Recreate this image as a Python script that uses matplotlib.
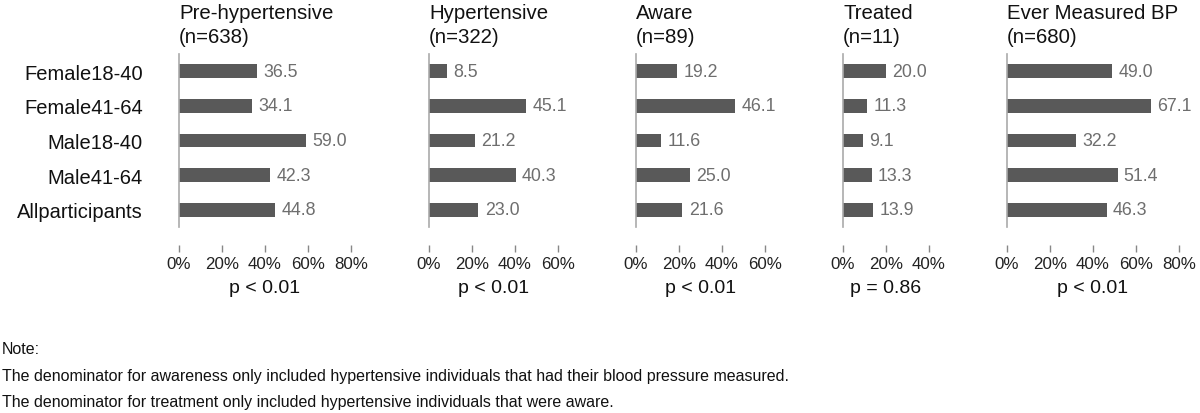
import matplotlib
matplotlib.use("Agg")
import matplotlib.pyplot as plt
from matplotlib import font_manager

categories = ["Female18-40", "Female41-64", "Male18-40", "Male41-64", "Allparticipants"]
panel_titles = ["Pre-hypertensive\n(n=638)", "Hypertensive\n(n=322)", "Aware\n(n=89)",
                "Treated\n(n=11)", "Ever Measured BP\n(n=680)"]
pre_hyp = [36.5, 34.1, 59.0, 42.3, 44.8]
hypertensive = [8.5, 45.1, 21.2, 40.3, 23.0]
aware = [19.2, 46.1, 11.6, 25.0, 21.6]
treated = [20.0, 11.3, 9.1, 13.3, 13.9]
ever_measured = [49.0, 67.1, 32.2, 51.4, 46.3]
series = [pre_hyp, hypertensive, aware, treated, ever_measured]
p_values = ["p < 0.01", "p < 0.01", "p < 0.01", "p = 0.86", "p < 0.01"]
tick_maxes = [80, 60, 60, 40, 80]
note_lines = ["Note:",
              "The denominator for awareness only included hypertensive individuals that had their blood pressure measured.",
              "The denominator for treatment only included hypertensive individuals that were aware."]

names = {f.name for f in font_manager.fontManager.ttflist}
main_font = "Liberation Sans" if "Liberation Sans" in names else "DejaVu Sans"
plt.rcParams["font.family"] = [main_font, "DejaVu Sans"]

W, H = 1200, 414
fig = plt.figure(figsize=(W / 100, H / 100), dpi=100)

px_per_pct = 2.15
lefts = [179, 429, 636, 843, 1007]
xlims = [95, 90, 90, 70, 85]
ax_top, ax_bottom = 55, 228

bar_color = "#595959"
val_color = "#6e6e6e"
axis_color = "#aaaaaa"

for i, (vals, title) in enumerate(zip(series, panel_titles)):
    left = lefts[i]
    width = xlims[i] * px_per_pct
    ax = fig.add_axes([left / W, 1 - ax_bottom / H, width / W, (ax_bottom - ax_top) / H])
    y = list(range(len(categories)))
    ax.barh(y, vals, height=0.4, color=bar_color)
    for yy, v in zip(y, vals):
        ax.annotate(f"{v:.1f}", xy=(v, yy), xytext=(4.5, 0), textcoords="offset points",
                    va="center", ha="left", fontsize=12.8, color=val_color)
    ax.set_xlim(0, xlims[i])
    ax.set_ylim(len(categories) - 0.5, -0.5)
    for s in ["top", "right", "bottom"]:
        ax.spines[s].set_visible(False)
    ax.spines["left"].set_color(axis_color)
    ax.spines["left"].set_linewidth(1.2)
    ax.spines["bottom"].set_position(("outward", 13))
    ticks = list(range(0, tick_maxes[i] + 1, 20))
    ax.set_xticks(ticks)
    ax.set_xticklabels([f"{t}%" for t in ticks])
    ax.tick_params(axis="x", length=5, width=1, color="#888888", pad=3,
                   labelsize=12.2, labelcolor="#222222")
    if i == 0:
        ax.set_yticks(y)
        ax.set_yticklabels(categories)
        ax.tick_params(axis="y", length=0, pad=26, labelsize=14.5, labelcolor="#111111")
    else:
        ax.set_yticks([])
    ax.annotate(title, xy=(0, 1), xycoords="axes fraction", xytext=(0, 6),
                textcoords="offset points", ha="left", va="bottom", fontsize=14.7,
                linespacing=1.28, color="#111111")
    ax.annotate(p_values[i], xy=(tick_maxes[i] / 2, 0), xycoords=("data", "axes fraction"),
                xytext=(0, -43.5), textcoords="offset points", ha="center", va="center",
                fontsize=14, color="#111111")

for k, line in enumerate(note_lines):
    fig.text(2 / W, 1 - (350 + 26.5 * k) / H, line, ha="left", va="center",
             fontsize=11.5, color="#111111")

fig.savefig("out.png", dpi=100)
